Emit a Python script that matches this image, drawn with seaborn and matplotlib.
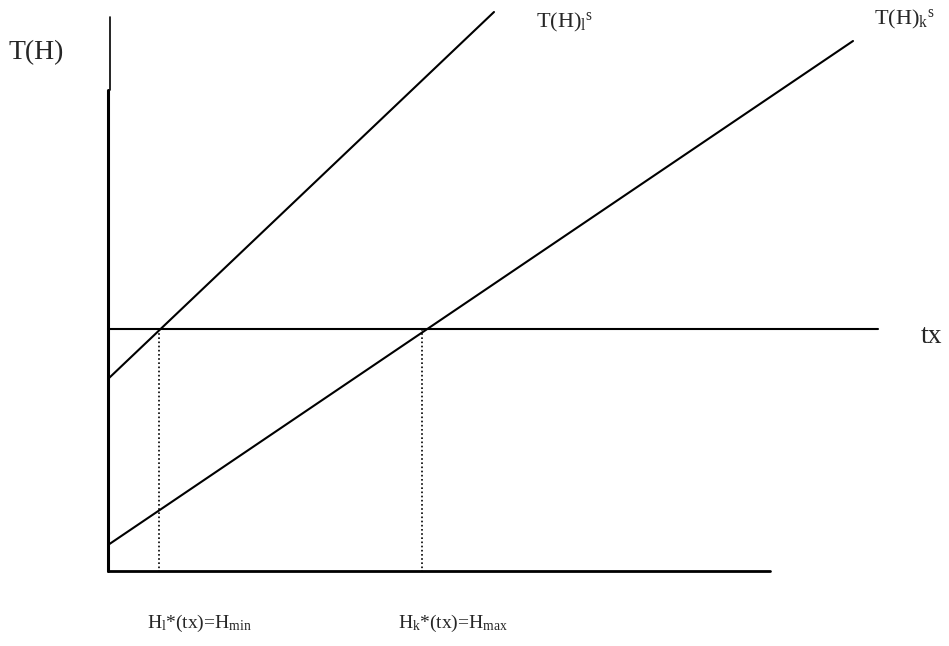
import pandas as pd
import matplotlib.pyplot as plt
import seaborn as sns

# endpoints of the two supply lines (pixel-like coordinates, y down)
line_names = ["l", "l", "k", "k"]
line_x = [108, 494, 108, 853]
line_y = [379, 12, 545, 41]

# horizontal tx level, axes and dotted drop lines
tx_level = 329
base_y = 571
axis_x = 108
hmin_x = 159
hmax_x = 422

sns.set_theme(style="white")
plt.rcParams["font.family"] = ["Liberation Serif", "DejaVu Serif"]
plt.rcParams["mathtext.fontset"] = "custom"
plt.rcParams["mathtext.rm"] = "Liberation Serif"
plt.rcParams["mathtext.it"] = "Liberation Serif"

fig = plt.figure(figsize=(9.49, 6.46), dpi=100)
ax = fig.add_axes([0, 0, 1, 1])
ax.set_xlim(0, 949)
ax.set_ylim(646, 0)
ax.axis("off")

df = pd.DataFrame({"name": line_names, "x": line_x, "y": line_y})
sns.lineplot(data=df, x="x", y="y", units="name", estimator=None,
             color="black", linewidth=1.5, ax=ax, sort=False)

# axes
ax.plot([axis_x + 2, axis_x + 2], [17, 90], color="black", linewidth=1.2)
ax.plot([axis_x, axis_x], [90, base_y], color="black", linewidth=2.2)
ax.plot([axis_x, 770], [base_y, base_y], color="black", linewidth=2)
ax.plot([axis_x, 878], [tx_level, tx_level], color="black", linewidth=1.5)

# dotted drop lines
for xv in [hmin_x, hmax_x]:
    ax.plot([xv, xv], [tx_level, base_y], color="black", linewidth=1.2, linestyle=(0, (1, 1.5)))

ax.text(9, 59, "T(H)", fontsize=20, ha="left", va="baseline")
ax.text(921, 343, "tx", fontsize=20, ha="left", va="baseline")
ax.text(536, 27, r"T(H)$_{\mathrm{l}}{}^{\mathrm{s}}$", fontsize=16, ha="left", va="baseline")
ax.text(874, 24, r"T(H)$_{\mathrm{k}}{}^{\mathrm{s}}$", fontsize=16, ha="left", va="baseline")
ax.text(147, 628, r"H$_{\mathrm{l}}$*(tx)=H$_{\mathrm{min}}$", fontsize=14, ha="left", va="baseline")
ax.text(398, 628, r"H$_{\mathrm{k}}$*(tx)=H$_{\mathrm{max}}$", fontsize=14, ha="left", va="baseline")

plt.savefig("out.png", dpi=100)
plt.close(fig)
